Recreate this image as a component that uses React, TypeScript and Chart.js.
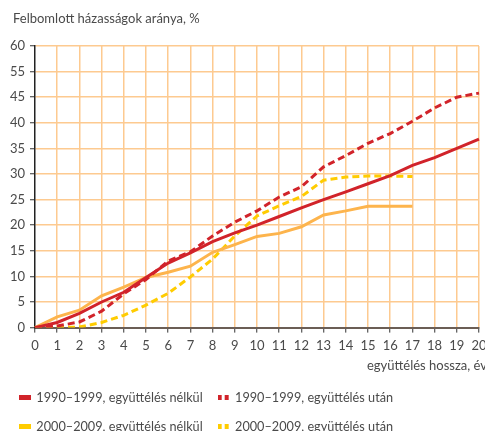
import React, { useEffect, useRef } from 'react';
import { Chart, registerables } from 'chart.js';

Chart.register(...registerables);

const FONT = "Lato, 'Liberation Sans', sans-serif";
const FS = 13;
const TEXT = '#4a4a4a';
const GRID = '#fdca90';
const RED = '#d1232a';
const ORANGE = '#fdb44c';
const YELLOW = '#ffcc00';

const TITLE = 'Felbomlott házasságok aránya, %';
const X_TITLE = 'együttélés hossza, év';

const years = ['0', '1', '2', '3', '4', '5', '6', '7', '8', '9', '10', '11', '12', '13', '14', '15', '16', '17', '18', '19', '20'];
const yTickLabels = ['0', '5', '10', '15', '20', '25', '30', '35', '40', '45', '55', '60'];

const seriesNames = [
  '1990–1999, együttélés nélkül',
  '1990–1999, együttélés után',
  '2000–2009, együttélés nélkül',
  '2000–2009, együttélés után',
];

const s1990Without = [0, 1.0, 2.8, 5.0, 6.9, 9.8, 12.6, 14.6, 16.8, 18.5, 20.0, 21.7, 23.4, 25.0, 26.5, 28.1, 29.7, 31.7, 33.2, 35.0, 36.8];
const s1990After = [0, 0.3, 1.1, 3.2, 6.6, 9.4, 13.0, 14.8, 17.9, 20.6, 22.8, 25.5, 27.5, 31.4, 33.6, 36.0, 37.9, 40.3, 42.9, 45.0, 45.8];
const s2000Without = [0, 2.1, 3.4, 6.2, 7.9, 9.8, 10.8, 12.0, 14.7, 16.2, 17.8, 18.4, 19.7, 22.0, 22.8, 23.7, 23.7, 23.7, null, null, null];
const s2000After = [0, 0, 0.1, 1.0, 2.4, 4.4, 6.7, 9.9, 13.4, 17.9, 21.8, 23.8, 25.6, 28.8, 29.4, 29.6, 29.6, 29.5, null, null, null];

function makeIcon(color: string, dashed: boolean): HTMLCanvasElement {
  const c = document.createElement('canvas');
  c.width = 12;
  c.height = 5;
  const g = c.getContext('2d')!;
  g.fillStyle = color;
  if (dashed) {
    g.fillRect(0, 0, 4, 5);
    g.fillRect(7, 0, 4, 5);
  } else {
    g.fillRect(0, 0, 12, 5);
  }
  return c;
}

const textPlugin = {
  id: 'extraTexts',
  afterDraw(chart: any) {
    const { ctx, chartArea } = chart;
    ctx.save();
    ctx.font = `${FS}px ${FONT}`;
    ctx.fillStyle = TEXT;
    ctx.textBaseline = 'middle';
    ctx.textAlign = 'left';
    ctx.fillText(TITLE, chartArea.left - 22, chartArea.top - 27);
    ctx.textAlign = 'right';
    ctx.fillText(X_TITLE, chartArea.right + 8, chartArea.bottom + 38);
    ctx.restore();
  },
};

export default function App() {
  const ref = useRef<HTMLCanvasElement>(null);

  useEffect(() => {
    if (!ref.current) return;
    const icons = [makeIcon(RED, false), makeIcon(RED, true), makeIcon(YELLOW, false), makeIcon(YELLOW, true)];
    const chart = new Chart(ref.current, {
      type: 'line',
      data: {
        labels: years,
        datasets: [
          { label: seriesNames[0], data: s1990Without, borderColor: RED, backgroundColor: RED, borderWidth: 3 },
          { label: seriesNames[1], data: s1990After, borderColor: RED, backgroundColor: RED, borderWidth: 3, borderDash: [7, 4] },
          { label: seriesNames[2], data: s2000Without, borderColor: ORANGE, backgroundColor: YELLOW, borderWidth: 3 },
          { label: seriesNames[3], data: s2000After, borderColor: YELLOW, backgroundColor: YELLOW, borderWidth: 3, borderDash: [7, 4] },
        ],
      },
      options: {
        animation: false,
        responsive: false,
        devicePixelRatio: 1,
        elements: { point: { radius: 0 }, line: { tension: 0 } },
        layout: { padding: { left: 4, right: 21, top: 46, bottom: 0 } },
        font: { family: FONT, size: FS },
        scales: {
          x: {
            type: 'category',
            offset: false,
            grid: {
              color: (c: any) => (c.index === 0 ? 'rgba(0,0,0,0)' : GRID),
              lineWidth: 1.5,
              tickColor: '#333',
              tickLength: 5,
              tickWidth: 1,
            },
            border: { color: '#6b5e55', width: 2 },
            ticks: { color: TEXT, font: { family: FONT, size: FS }, padding: 5, maxRotation: 0, autoSkip: false },
            afterFit: (s: any) => { s.height = 48; },
          },
          y: {
            min: 0,
            max: 55,
            grid: {
              color: (c: any) => (c.index === 0 ? 'rgba(0,0,0,0)' : GRID),
              lineWidth: 1.5,
              tickColor: '#333',
              tickLength: 5,
              tickWidth: 1,
            },
            border: { color: '#222', width: 1.5 },
            ticks: {
              stepSize: 5,
              color: TEXT,
              padding: 5,
              font: { family: FONT, size: FS },
              callback: (_v: any, i: number) => yTickLabels[i],
            },
            afterFit: (s: any) => { s.width = 31; },
          },
        },
        plugins: {
          title: { display: false },
          tooltip: { enabled: false },
          legend: {
            position: 'bottom',
            align: 'start',
            labels: {
              usePointStyle: true,
              pointStyleWidth: 10,
              padding: 16,
              color: TEXT,
              font: { family: FONT, size: 12.7 },
              generateLabels: (ch: any) =>
                ch.data.datasets.map((d: any, i: number) => ({
                  text: d.label,
                  pointStyle: icons[i],
                  fillStyle: d.backgroundColor,
                  strokeStyle: 'rgba(0,0,0,0)',
                  lineWidth: 0,
                  hidden: false,
                  datasetIndex: i,
                  fontColor: TEXT,
                })),
            },
          },
        },
      },
      plugins: [textPlugin],
    });
    return () => chart.destroy();
  }, []);

  return (
    <div style={{ position: 'fixed', left: 0, top: 0, width: 500, height: 443, background: '#fff' }}>
      <canvas ref={ref} width={500} height={443} style={{ display: 'block' }} />
    </div>
  );
}
